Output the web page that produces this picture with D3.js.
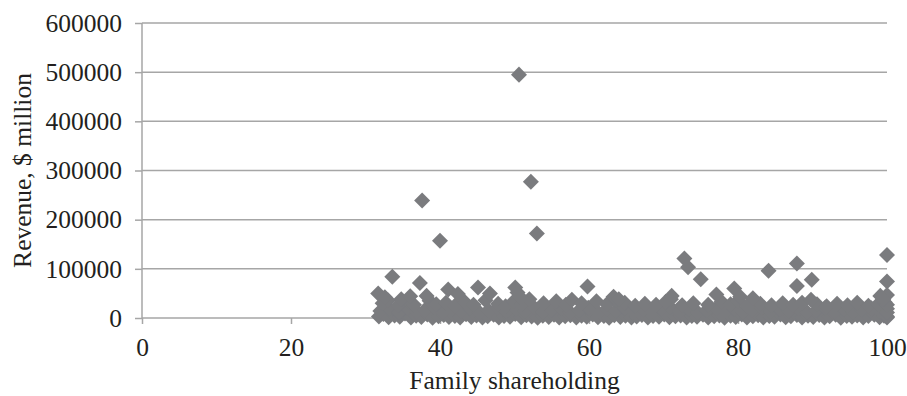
<!DOCTYPE html>
<html lang="en">
<head>
  <meta charset="UTF-8">
  <title>Family shareholding vs revenue</title>
  <style>
    body { margin: 0; background: #fff; }
    .grid line { stroke: #a6a6a6; stroke-width: 1.5px; }
    .axis path, .axis line { stroke: #a6a6a6; stroke-width: 1.5px; }
    .axis text { fill: #231f20; font-family: 'Liberation Serif', 'Times New Roman', serif; font-size: 25.5px; }
    .title { fill: #231f20; font-family: 'Liberation Serif', 'Times New Roman', serif; font-size: 25.5px; }
    .dot { fill: #7a7b7e; }
  </style>
  <script src="https://cdn.jsdelivr.net/npm/d3@7"></script>
</head>
<body>
<div class="container"></div>
<script>
  // ticks
  var xTicks = [0, 20, 40, 60, 80, 100];
  var yTicks = [0, 100000, 200000, 300000, 400000, 500000, 600000];

  // firms well above the main band
  var outliers = [
    [50.6, 495000], [52.2, 277000], [37.6, 239000], [53.0, 172000], [40.0, 157000],
    [100, 128000], [72.8, 121000], [87.9, 111000], [73.3, 103000], [84.1, 96000],
    [33.6, 84000], [75.0, 79000], [89.9, 78000], [100, 74000], [37.3, 71000],
    [87.9, 65000], [59.8, 64000], [45.1, 62000], [50.1, 62000], [79.5, 60000],
    [41.1, 58000], [42.4, 49000], [46.7, 50000], [31.7, 50000], [77.1, 48000],
    [100, 47000], [63.3, 43000], [71.1, 45000], [80.3, 43000], [82.0, 40000],
    [89.8, 37000], [50.4, 52000], [50.8, 42000], [99.5, 38000], [99.1, 45000],
    [32.6, 42000], [34.8, 38000], [36.0, 44000], [38.2, 45000], [64.0, 38000]
  ];

  // top of the dense band
  var highBand = [
    [32.3, 30000], [33.0, 36000], [34.4, 26000], [35.8, 33000], [36.5, 27000], [38.6, 35000],
    [39.5, 28000], [40.8, 31000], [42.0, 25000], [43.3, 33000], [44.5, 27000], [46.1, 36000],
    [47.8, 29000], [48.8, 24000], [49.9, 34000], [51.0, 28000], [52.0, 38000], [53.9, 30000],
    [55.6, 34000], [56.9, 27000], [57.7, 37000], [59.0, 30000], [61.0, 34000], [62.4, 28000],
    [63.6, 36000], [64.8, 31000], [66.2, 25000], [67.5, 29000], [69.0, 27000], [70.3, 33000],
    [71.0, 38000], [72.5, 26000], [74.0, 30000], [76.0, 27000], [77.8, 33000], [79.0, 28000],
    [80.0, 35000], [81.2, 25000], [83.0, 29000], [84.5, 26000], [86.0, 30000], [87.4, 27000],
    [88.6, 31000], [90.6, 28000], [91.9, 24000], [93.3, 29000], [94.7, 26000], [96.0, 31000],
    [97.5, 25000], [98.8, 28000], [99.7, 32000], [100, 27000]
  ];

  var midBand = [
    [32.0, 14000], [33.2, 19000], [34.5, 11000], [35.6, 21000], [36.9, 13000], [38.0, 17000],
    [39.2, 22000], [40.4, 12000], [41.6, 18000], [42.8, 15000], [44.0, 20000], [45.3, 11000],
    [46.5, 16000], [47.7, 21000], [48.9, 13000], [50.2, 19000], [51.4, 14000], [52.6, 22000],
    [53.8, 12000], [55.0, 17000], [56.3, 20000], [57.5, 11000], [58.7, 16000], [59.9, 21000],
    [61.1, 13000], [62.4, 18000], [63.6, 15000], [64.8, 20000], [66.0, 12000], [67.3, 17000],
    [68.5, 14000], [69.7, 19000], [70.9, 22000], [72.2, 13000], [73.4, 18000], [74.6, 11000],
    [75.8, 16000], [77.1, 20000], [78.3, 14000], [79.5, 19000], [80.7, 12000], [81.9, 17000],
    [83.2, 21000], [84.4, 13000], [85.6, 18000], [86.8, 15000], [88.1, 20000], [89.3, 11000],
    [90.5, 16000], [91.7, 21000], [93.0, 13000], [94.2, 18000], [95.4, 12000], [96.6, 17000],
    [97.9, 20000], [99.1, 14000], [100, 19000], [100, 11000]
  ];

  var lowBand = [
    [31.8, 3000], [32.4, 8000], [33.1, 1500], [33.9, 5000], [34.6, 2500], [35.3, 9000],
    [36.1, 1000], [36.8, 4500], [37.5, 2000], [38.3, 7000], [39.0, 500], [39.8, 3500],
    [40.5, 6000], [41.2, 1800], [42.0, 4000], [42.7, 800], [43.5, 7500], [44.2, 2200],
    [44.9, 5200], [45.7, 1200], [46.4, 3800], [47.2, 6500], [47.9, 900], [48.6, 4200],
    [49.4, 2600], [50.1, 8000], [50.9, 1400], [51.6, 5500], [52.3, 3000], [53.1, 700],
    [53.8, 4800], [54.6, 2000], [55.3, 6800], [56.0, 1100], [56.8, 3600], [57.5, 5800],
    [58.3, 900], [59.0, 4400], [59.7, 2400], [60.5, 7200], [61.2, 1300], [62.0, 3900],
    [62.7, 600], [63.4, 5600], [64.2, 2100], [64.9, 4700], [65.7, 1000], [66.4, 3300],
    [67.1, 6200], [67.9, 800], [68.6, 4100], [69.4, 2300], [70.1, 7000], [70.8, 1500],
    [71.6, 3700], [72.3, 5300], [73.1, 900], [73.8, 4300], [74.5, 2700], [75.3, 6600],
    [76.0, 1200], [76.8, 3400], [77.5, 5000], [78.2, 700], [79.0, 4600], [79.7, 2000],
    [80.5, 6900], [81.2, 1100], [82.0, 3800], [82.7, 5700], [83.4, 900], [84.2, 4000],
    [84.9, 2500], [85.7, 7300], [86.4, 1300], [87.1, 3500], [87.9, 6100], [88.6, 800],
    [89.4, 4500], [90.1, 2200], [90.9, 5900], [91.6, 1000], [92.3, 3600], [93.1, 6400],
    [93.8, 700], [94.6, 4200], [95.3, 2400], [96.0, 5100], [96.8, 1200], [97.5, 3900],
    [98.3, 6700], [99.0, 1500], [99.6, 4800], [100, 900], [100, 3000]
  ];

  var margin = {top: 23, right: 20, bottom: 78, left: 142};
  var svgWidth = 907, svgHeight = 396;
  var width = 745, height = svgHeight - margin.top - margin.bottom;

  var svg = d3.select('.container').append('svg')
    .attr('width', svgWidth)
    .attr('height', svgHeight);
  var g = svg.append('g').attr('transform', `translate(${margin.left},${margin.top})`);

  var x = d3.scaleLinear().domain([0, 100]).range([0, width]);
  var y = d3.scaleLinear().domain([0, 600000]).range([height, 0]);

  // horizontal gridlines
  g.append('g').attr('class', 'grid')
    .selectAll('line')
    .data(yTicks.slice(1))
    .enter().append('line')
    .attr('x1', 0).attr('x2', width)
    .attr('y1', d => y(d)).attr('y2', d => y(d));

  var yAxis = g.append('g').attr('class', 'axis')
    .call(d3.axisLeft(y).tickValues(yTicks).tickSize(7).tickPadding(13).tickFormat(d3.format('d')));
  yAxis.select('.domain').attr('d', `M0,${height}V0`);

  var xAxis = g.append('g').attr('class', 'axis')
    .attr('transform', `translate(0,${height})`)
    .call(d3.axisBottom(x).tickValues(xTicks).tickSize(6).tickPadding(14));
  xAxis.select('.domain').attr('d', `M0,0H${width}`);

  var diamond = d3.symbol().type(d3.symbolSquare).size(128);
  var allPoints = lowBand.concat(midBand, highBand, outliers);
  g.append('g')
    .selectAll('.dot')
    .data(allPoints)
    .enter().append('path')
    .attr('class', 'dot')
    .attr('d', diamond)
    .attr('transform', d => `translate(${x(d[0])},${y(d[1])}) rotate(45)`);

  svg.append('text')
    .attr('class', 'title')
    .attr('x', margin.left + width / 2)
    .attr('y', 389)
    .attr('text-anchor', 'middle')
    .text('Family shareholding');

  svg.append('text')
    .attr('class', 'title')
    .attr('transform', `translate(31,${margin.top + height / 2}) rotate(-90)`)
    .attr('text-anchor', 'middle')
    .text('Revenue, $ million');
</script>
</body>
</html>
